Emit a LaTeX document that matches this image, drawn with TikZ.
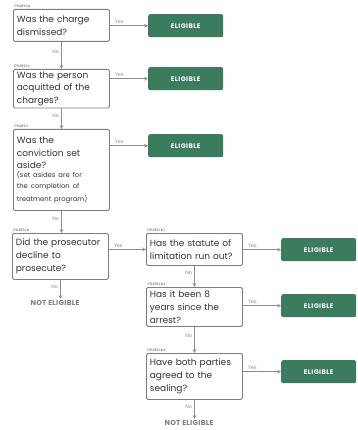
\documentclass[tikz,border=0pt]{standalone}
\usepackage{fontspec}
\setmainfont{Poppins}
\usetikzlibrary{arrows, positioning, calc}
\definecolor{boxgray}{HTML}{7E7E7E}
\definecolor{linegray}{HTML}{8C8C8C}
\definecolor{textdark}{HTML}{333333}
\definecolor{eligiblegreen}{HTML}{3B7B5E}

\begin{document}
\begin{tikzpicture}[x=1pt, y=-1pt, >=stealth,
    question/.style={draw=boxgray, line width=0.8pt, rounded corners=1.5pt, anchor=north west,
        text width=89pt, inner xsep=3.5pt, inner ysep=2pt, align=left, text=textdark,
        font=\fontsize{9}{12.8}\selectfont},
    eligible/.style={fill=eligiblegreen, rounded corners=2pt, anchor=north west,
        minimum width=75pt, minimum height=23pt, text=white,
        font=\fontsize{6.6}{7}\selectfont\bfseries\addfontfeatures{LetterSpace=6}},
    noteligible/.style={anchor=north, inner sep=1pt, text=boxgray,
        font=\fontsize{7.2}{8}\selectfont\bfseries\addfontfeatures{LetterSpace=4}},
    seclabel/.style={anchor=south west, inner sep=1pt, text=textdark,
        font=\fontsize{3.2}{4}\selectfont},
    flow/.style={->, draw=linegray, line width=0.7pt},
    yes/.style={pos=0.25, above, inner sep=1.5pt, text=linegray, font=\fontsize{5}{5}\selectfont},
    no/.style={pos=0.35, left, inner sep=2pt, text=linegray, font=\fontsize{5}{5}\selectfont}]
    \useasboundingbox (0,0) rectangle (357,430);

    % Question boxes
    \node[question, minimum height=32pt] (q1) at (13,9) {Was the charge\\dismissed?};
    \node[question, minimum height=38pt] (q2) at (13,69) {Was the person\\acquitted of the\\charges?};
    \node[question, minimum height=81pt] (q3) at (13,129) {Was the\\conviction set\\aside?\\[-2.5pt]
        {\fontsize{6.8}{11}\selectfont (set asides are for\\the completion of\\treatment program)}};
    \node[question, minimum height=46pt] (q4) at (12,233) {Did the prosecutor\\decline to\\prosecute?};
    \node[question, minimum height=32pt] (q5) at (146,233) {Has the statute of\\limitation run out?};
    \node[question, minimum height=39pt] (q6) at (146,287) {Has it been 8\\years since the\\arrest?};
    \node[question, minimum height=46pt] (q7) at (146,353) {Have both parties\\agreed to the\\sealing?};

    % Section numbers
    \node[seclabel] (s1) at (q1.north west) {179.255.1.a};
    \node[seclabel] (s2) at (q2.north west) {179.255.1.c};
    \node[seclabel] (s3) at (q3.north west) {179.255.2};
    \node[seclabel] (s4) at (q4.north west) {179.255.1.b};
    \node[seclabel] (s5) at (q5.north west) {179.255.1.b.1};
    \node[seclabel] (s6) at (q6.north west) {179.255.1.b.2};
    \node[seclabel] (s7) at (q7.north west) {179.255.1.b.3};

    % Outcomes
    \node[eligible] (e1) at (148,14) {ELIGIBLE};
    \node[eligible] (e2) at (148,67) {ELIGIBLE};
    \node[eligible] (e3) at (148,134) {ELIGIBLE};
    \node[eligible] (e5) at (281,238) {ELIGIBLE};
    \node[eligible] (e6) at (281,294) {ELIGIBLE};
    \node[eligible] (e7) at (281,360) {ELIGIBLE};
    \node[noteligible] (ne1) at (55,299) {NOT ELIGIBLE};
    \node[noteligible] (ne2) at (189,419) {NOT ELIGIBLE};

    % Yes branches
    \draw[flow] (q1.east |- e1.west) -- node[yes] {Yes} (e1.west);
    \draw[flow] (q2.east |- e2.west) -- node[yes] {Yes} (e2.west);
    \draw[flow] (q3.east |- e3.west) -- node[yes] {Yes} (e3.west);
    \draw[flow] (q4.east |- q5.west) -- node[yes] {Yes} (q5.west);
    \draw[flow] (q5.east |- e5.west) -- node[yes] {Yes} (e5.west);
    \draw[flow] (q6.east |- e6.west) -- node[yes] {Yes} (e6.west);
    \draw[flow] (q7.east |- e7.west) -- node[yes] {Yes} (e7.west);

    % No branches
    \draw[flow] (q1.south) -- node[no] {No} (q1.south |- q2.north);
    \draw[flow] (q2.south) -- node[no] {No} (q2.south |- q3.north);
    \draw[flow] (q3.south) -- node[no] {No} (q3.south |- q4.north);
    \draw[flow] (q4.south) -- node[no] {No} (q4.south |- ne1.north);
    \draw[flow] (q5.south) -- node[no] {No} (q5.south |- q6.north);
    \draw[flow] (q6.south) -- node[no] {No} (q6.south |- q7.north);
    \draw[flow] (q7.south) -- node[no] {No} (q7.south |- ne2.north);
\end{tikzpicture}
\end{document}
